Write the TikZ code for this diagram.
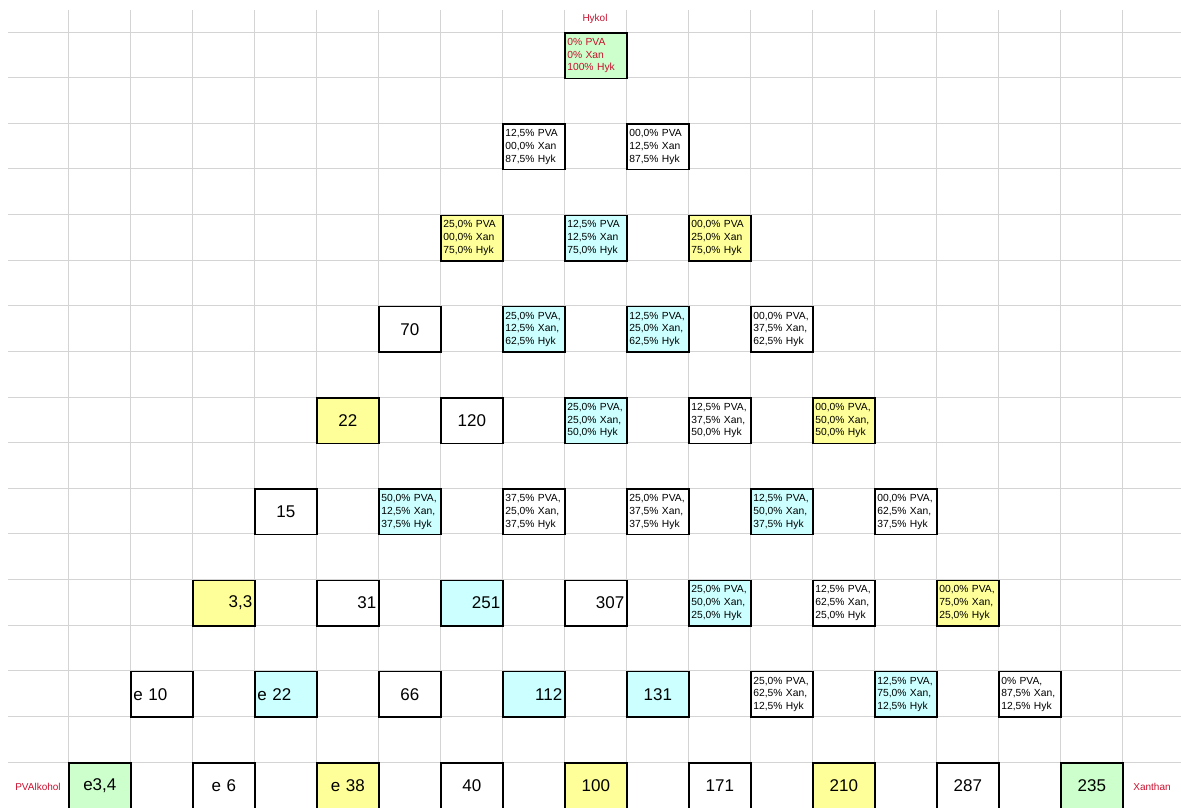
\documentclass[tikz,border=0pt]{standalone}
\usepackage{fontspec}
\setmainfont{Liberation Sans}
\usepackage{tikz}

\definecolor{cellgreen}{HTML}{CCFFCC}
\definecolor{cellyellow}{HTML}{FFFF99}
\definecolor{cellcyan}{HTML}{CCFFFF}
\definecolor{labelred}{HTML}{C8102E}
\definecolor{gridgray}{HTML}{D4D4D4}

\begin{document}
\begin{tikzpicture}[x=1pt, y=-1pt,
    cell/.style={draw=black, line width=1.6pt, anchor=north west, minimum width=62pt,
        minimum height=45.625pt, inner xsep=2.5pt, inner ysep=0pt, text width=57pt},
    mix/.style={font=\fontsize{10.3}{12.7}\selectfont, align=left},
    pure/.style={mix, text=labelred},
    numC/.style={font=\fontsize{17}{20}\selectfont, align=center},
    numL/.style={numC, align=left},
    numR/.style={numC, align=right},
    axislabel/.style={text=labelred, font=\fontsize{10}{12}\selectfont, inner sep=0pt}]
    \useasboundingbox (0,0) rectangle (1181,808);

    \foreach \k in {0,...,17}
        \draw[gridgray, line width=0.8pt] ({68+62*\k},10) -- ({68+62*\k},808);
    \foreach \k in {0,...,16}
        \draw[gridgray, line width=0.8pt] (8,{32+45.625*\k}) -- (1181,{32+45.625*\k});

    \foreach \i/\j/\c/\s/\t in {
        0/8/cellgreen/pure/{0\% PVA\\0\% Xan\\100\% Hyk},
        2/7/white/mix/{12,5\% PVA\\00,0\% Xan\\87,5\% Hyk},
        2/9/white/mix/{00,0\% PVA\\12,5\% Xan\\87,5\% Hyk},
        4/6/cellyellow/mix/{25,0\% PVA\\00,0\% Xan\\75,0\% Hyk},
        4/8/cellcyan/mix/{12,5\% PVA\\12,5\% Xan\\75,0\% Hyk},
        4/10/cellyellow/mix/{00,0\% PVA\\25,0\% Xan\\75,0\% Hyk},
        6/5/white/numC/{70},
        6/7/cellcyan/mix/{25,0\% PVA,\\12,5\% Xan,\\62,5\% Hyk},
        6/9/cellcyan/mix/{12,5\% PVA,\\25,0\% Xan,\\62,5\% Hyk},
        6/11/white/mix/{00,0\% PVA,\\37,5\% Xan,\\62,5\% Hyk},
        8/4/cellyellow/numC/{22},
        8/6/white/numC/{120},
        8/8/cellcyan/mix/{25,0\% PVA,\\25,0\% Xan,\\50,0\% Hyk},
        8/10/white/mix/{12,5\% PVA,\\37,5\% Xan,\\50,0\% Hyk},
        8/12/cellyellow/mix/{00,0\% PVA,\\50,0\% Xan,\\50,0\% Hyk},
        10/3/white/numC/{15},
        10/5/cellcyan/mix/{50,0\% PVA,\\12,5\% Xan,\\37,5\% Hyk},
        10/7/white/mix/{37,5\% PVA,\\25,0\% Xan,\\37,5\% Hyk},
        10/9/white/mix/{25,0\% PVA,\\37,5\% Xan,\\37,5\% Hyk},
        10/11/cellcyan/mix/{12,5\% PVA,\\50,0\% Xan,\\37,5\% Hyk},
        10/13/white/mix/{00,0\% PVA,\\62,5\% Xan,\\37,5\% Hyk},
        12/2/cellyellow/numR/{3,3},
        12/4/white/numR/{31},
        12/6/cellcyan/numR/{251},
        12/8/white/numR/{307},
        12/10/cellcyan/mix/{25,0\% PVA,\\50,0\% Xan,\\25,0\% Hyk},
        12/12/white/mix/{12,5\% PVA,\\62,5\% Xan,\\25,0\% Hyk},
        12/14/cellyellow/mix/{00,0\% PVA,\\75,0\% Xan,\\25,0\% Hyk},
        14/1/white/numL/{e 10},
        14/3/cellcyan/numL/{e 22},
        14/5/white/numC/{66},
        14/7/cellcyan/numR/{112},
        14/9/cellcyan/numC/{131},
        14/11/white/mix/{25,0\% PVA,\\62,5\% Xan,\\12,5\% Hyk},
        14/13/cellcyan/mix/{12,5\% PVA,\\75,0\% Xan,\\12,5\% Hyk},
        14/15/white/mix/{0\% PVA,\\87,5\% Xan,\\12,5\% Hyk},
        16/0/cellgreen/numC/{e3,4},
        16/2/white/numC/{e 6},
        16/4/cellyellow/numC/{e 38},
        16/6/white/numC/{40},
        16/8/cellyellow/numC/{100},
        16/10/white/numC/{171},
        16/12/cellyellow/numC/{210},
        16/14/white/numC/{287},
        16/16/cellgreen/numC/{235}}
        \node[cell, fill=\c, \s] (c\i-\j) at ({68+62*\j},{32+45.625*\i}) {\t};

    \node[axislabel] (hykol) at (595,19) {Hykol};
    \node[axislabel] (pvalkohol) at (38,787) {PVAlkohol};
    \node[axislabel] (xanthan) at (1152,787) {Xanthan};
\end{tikzpicture}
\end{document}
